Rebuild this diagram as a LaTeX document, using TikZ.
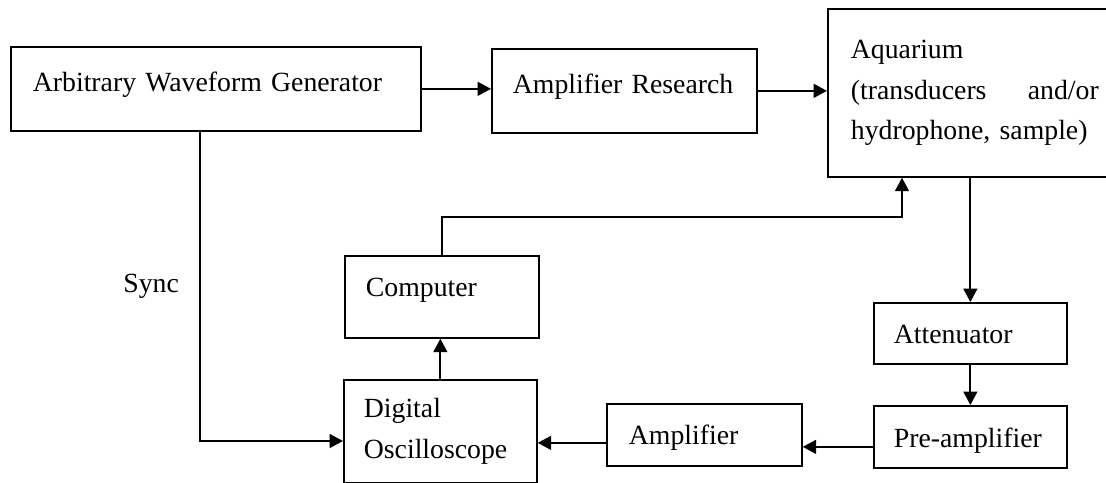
\documentclass[tikz,border=0pt]{standalone}
\usepackage{fontspec}
\setmainfont{Liberation Serif}
\usetikzlibrary{arrows.meta}
\begin{document}
\begin{tikzpicture}[x=0.02cm,y=-0.02cm]
	\tikzstyle{block}=[draw=black,line width=1pt,anchor=north west,inner ysep=0pt,align=left,font=\fontsize{15.8}{23}\selectfont]
	\tikzstyle{edge}=[draw,line width=1pt,-{Triangle[length=0.27cm,width=0.28cm]}]
	\useasboundingbox (0,0) rectangle (1106,483);
	\begin{scope}
		\node [block,inner xsep=0.44cm,text width=7.32cm,text height=0.90cm,text depth=0.78cm] (awg) at (10,46) {Arbitrary Waveform Generator};
		\node [block,inner xsep=0.42cm,text width=4.46cm,text height=0.90cm,text depth=0.78cm] (ar) at (491,48) {Amplifier Research};
		\node [block,inner xsep=0.46cm,text width=4.96cm,minimum height=3.36cm] (aq) at (827,8) {Aquarium\\\makebox[4.96cm][s]{(transducers\hfill and/or}\\hydrophone, sample)};
		\node [block,inner xsep=0.42cm,text width=3.04cm,text height=0.82cm,text depth=0.82cm] (comp) at (344,255) {Computer};
		\node [block,inner xsep=0.40cm,text width=3.06cm,minimum height=2.06cm] (dso) at (343,379) {Digital\\Oscilloscope};
		\node [block,inner xsep=0.44cm,text width=3.02cm,text height=0.82cm,text depth=0.42cm] (amp) at (606,403) {Amplifier};
		\node [block,inner xsep=0.40cm,text width=3.06cm,text height=0.82cm,text depth=0.40cm] (att) at (873,302) {Attenuator};
		\node [block,inner xsep=0.40cm,text width=3.06cm,text height=0.84cm,text depth=0.40cm] (pre) at (873,405) {Pre-amplifier};
		\node [anchor=base west,inner sep=0pt,font=\fontsize{15.8}{23}\selectfont] (sync) at (123,292) {Sync};
		\coordinate (tap) at (902,217);
		\coordinate (sy) at (200,441);
		\path[edge] (awg.east) -- (awg.east -| ar.west);
		\path[edge] (ar.east) -- (ar.east -| aq.west);
		\path[edge] (comp.north) |- (tap) -- (tap |- aq.south);
		\path[edge] (att.north |- aq.south) -- (att.north);
		\path[edge] (att.south) -- (pre.north);
		\path[edge] ([yshift=-0.2cm]pre.west) -- ([yshift=-0.2cm]pre.west -| amp.east);
		\path[edge] ([yshift=-0.16cm]amp.west) -- ([yshift=-0.16cm]amp.west -| dso.east);
		\path[edge] (dso.north) -- (dso.north |- comp.south);
		\path[edge] (sy |- awg.south) -- (sy) -- (sy -| dso.west);
	\end{scope}
\end{tikzpicture}
\end{document}
